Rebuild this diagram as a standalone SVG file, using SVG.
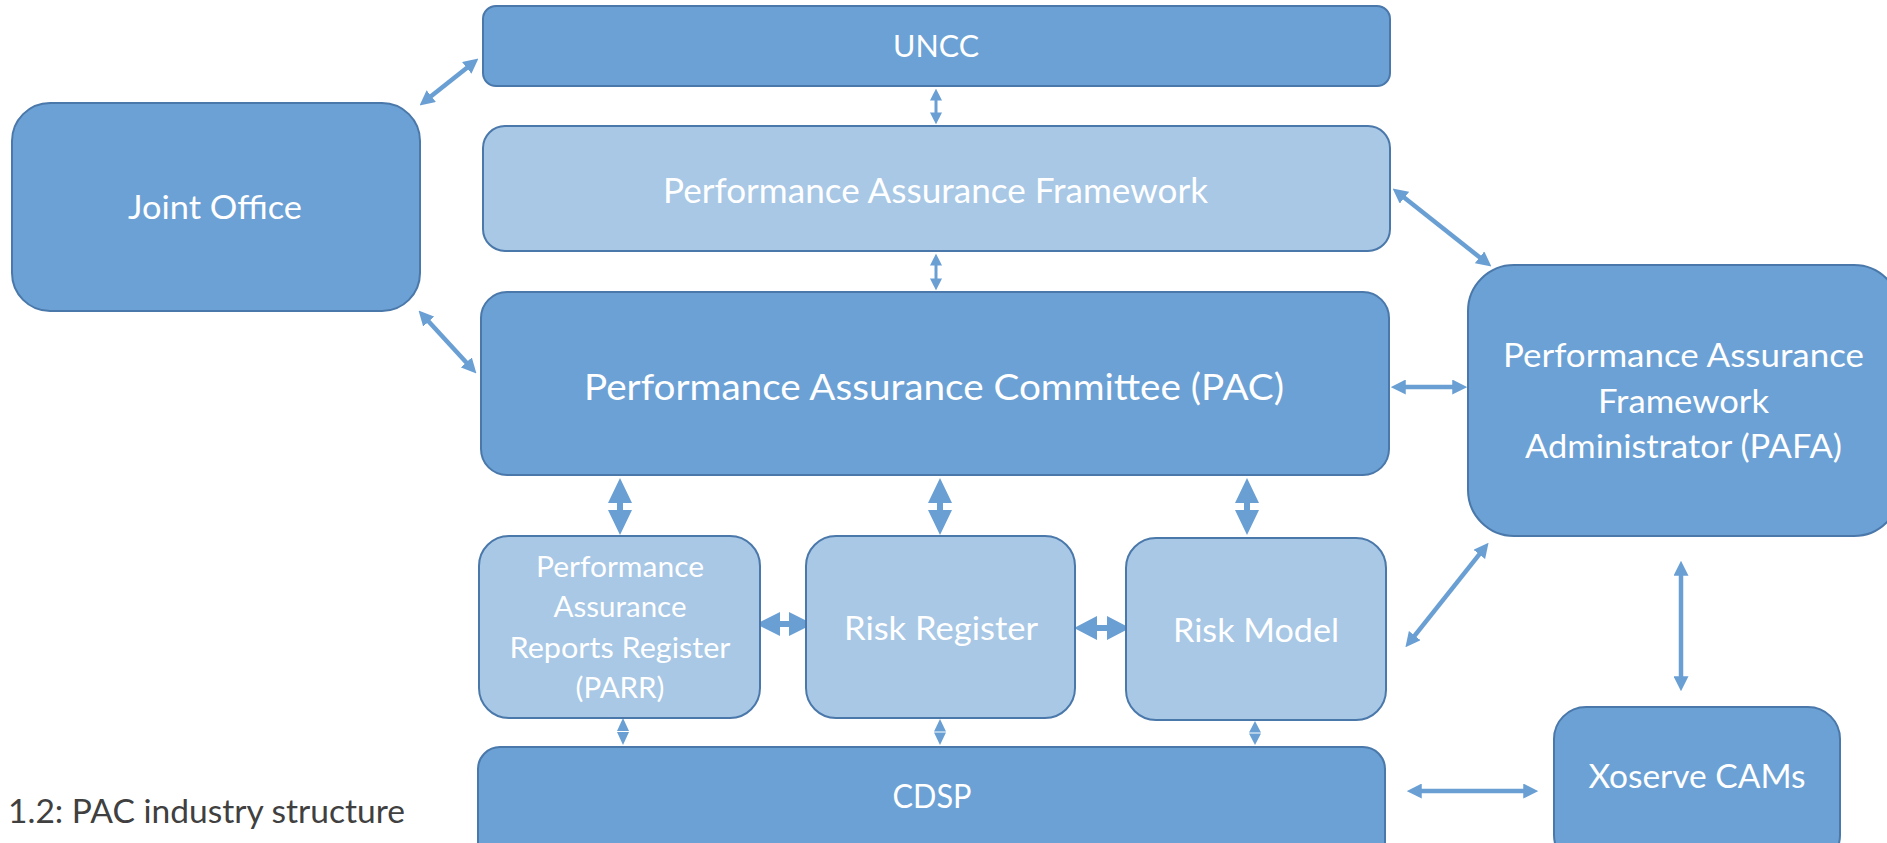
<svg xmlns="http://www.w3.org/2000/svg" width="1887" height="843" viewBox="0 0 1887 843">
<style>
.dark{fill:#6BA1D5;stroke:#4A78AA;stroke-width:2}
.light{fill:#A8C8E6;stroke:#4A78AA;stroke-width:2}
.t{font-family:Lato,"Open Sans",sans-serif;fill:#FFFFFF;text-anchor:middle}
.cap{font-family:Lato,"Open Sans",sans-serif;fill:#404040}
.ln{stroke:#6A9FD4;stroke-width:4.5;fill:none}
.lns{stroke:#6A9FD4;stroke-width:3;fill:none}
.blk{fill:#6A9FD4}
</style>
<defs>
<marker id="ah" viewBox="0 0 10 10" refX="0.5" refY="5" markerUnits="userSpaceOnUse" markerWidth="15" markerHeight="15" orient="auto-start-reverse"><path d="M0,0 L10,5 L0,10 z" fill="#6A9FD4"/></marker>
<marker id="ahs" viewBox="0 0 10 10" refX="0.5" refY="5" markerUnits="userSpaceOnUse" markerWidth="12" markerHeight="13" orient="auto-start-reverse"><path d="M0,0 L10,5 L0,10 z" fill="#6A9FD4"/></marker>
</defs>

<g id="connectors">
<path class="ln" d="M430.7,96.6 L467.3,67.4" marker-start="url(#ah)" marker-end="url(#ah)"/>
<path class="ln" d="M428.2,321 L466.8,363" marker-start="url(#ah)" marker-end="url(#ah)"/>
<path class="lns" d="M936,100 L936,113" marker-start="url(#ahs)" marker-end="url(#ahs)"/>
<path class="lns" d="M936,265 L936,279" marker-start="url(#ahs)" marker-end="url(#ahs)"/>
<path class="ln" d="M1403.8,197.3 L1480.2,257.7" marker-start="url(#ah)" marker-end="url(#ah)"/>
<path class="ln" d="M1405,387 L1453,387" marker-start="url(#ah)" marker-end="url(#ah)"/>
<path class="ln" d="M1414.3,636.2 L1479.7,553.8" marker-start="url(#ah)" marker-end="url(#ah)"/>
<path class="ln" d="M1681,575 L1681,677" marker-start="url(#ah)" marker-end="url(#ah)"/>
<path class="ln" d="M1421,791 L1524,791" marker-start="url(#ah)" marker-end="url(#ah)"/>
<polygon class="blk" points="620,478 632,503 623,503 623,510 632,510 620,535 608,510 617,510 617,503 608,503"/>
<polygon class="blk" points="940,478 952,503 943,503 943,510 952,510 940,535 928,510 937,510 937,503 928,503"/>
<polygon class="blk" points="1247,478 1259,503 1250,503 1250,510 1259,510 1247,535 1235,510 1244,510 1244,503 1235,503"/>
<polygon class="blk" points="756,624 780,612 780,621 789,621 789,612 813,624 789,636 789,627 780,627 780,636"/>
<polygon class="blk" points="1074,628 1097,616 1097,625 1107,625 1107,616 1130,628 1107,640 1107,631 1097,631 1097,640"/>
<polygon class="blk" points="623,718 629,731 617,731"/>
<polygon class="blk" points="623,745 629,732 617,732"/>
<polygon class="blk" points="940,719 946,731.5 934,731.5"/>
<polygon class="blk" points="940,745 946,732.5 934,732.5"/>
<polygon class="blk" points="1255,721 1261,732.5 1249,732.5"/>
<polygon class="blk" points="1255,745 1261,733.5 1249,733.5"/>
</g>

<g id="uncc">
<rect class="dark" x="483" y="6" width="907" height="80" rx="13"/>
<text class="t" x="936" y="57" font-size="31.5" textLength="86" lengthAdjust="spacingAndGlyphs">UNCC</text>
</g>
<g id="paf">
<rect class="light" x="483" y="126" width="907" height="125" rx="22"/>
<text class="t" x="935.5" y="203" font-size="33.8" textLength="545" lengthAdjust="spacingAndGlyphs">Performance Assurance Framework</text>
</g>
<g id="joint-office">
<rect class="dark" x="12" y="103" width="408" height="208" rx="38"/>
<text class="t" x="215" y="219" font-size="33.3" textLength="174" lengthAdjust="spacingAndGlyphs">Joint Office</text>
</g>
<g id="pac">
<rect class="dark" x="481" y="292" width="908" height="183" rx="26"/>
<text class="t" x="934" y="400" font-size="37.4" textLength="700" lengthAdjust="spacingAndGlyphs">Performance Assurance Committee (PAC)</text>
</g>
<g id="pafa">
<rect class="dark" x="1468" y="265" width="432" height="271" rx="46"/>
<text class="t" x="1683.5" y="367" font-size="33.3" textLength="361" lengthAdjust="spacingAndGlyphs">Performance Assurance</text>
<text class="t" x="1683.5" y="413" font-size="33.3" textLength="171" lengthAdjust="spacingAndGlyphs">Framework</text>
<text class="t" x="1683.5" y="458" font-size="33.3" textLength="317" lengthAdjust="spacingAndGlyphs">Administrator (PAFA)</text>
</g>
<g id="parr">
<rect class="light" x="479" y="536" width="281" height="182" rx="30"/>
<text class="t" x="620" y="577" font-size="28.8" textLength="168" lengthAdjust="spacingAndGlyphs">Performance</text>
<text class="t" x="620" y="617" font-size="28.8" textLength="133" lengthAdjust="spacingAndGlyphs">Assurance</text>
<text class="t" x="620" y="658" font-size="28.8" textLength="221" lengthAdjust="spacingAndGlyphs">Reports Register</text>
<text class="t" x="620" y="698" font-size="28.8" textLength="89" lengthAdjust="spacingAndGlyphs">(PARR)</text>
</g>
<g id="risk-register">
<rect class="light" x="806" y="536" width="269" height="182" rx="30"/>
<text class="t" x="941" y="640" font-size="33.3" textLength="194" lengthAdjust="spacingAndGlyphs">Risk Register</text>
</g>
<g id="risk-model">
<rect class="light" x="1126" y="538" width="260" height="182" rx="30"/>
<text class="t" x="1256" y="642" font-size="33.3" textLength="166" lengthAdjust="spacingAndGlyphs">Risk Model</text>
</g>
<g id="cdsp">
<rect class="dark" x="478" y="747" width="907" height="120" rx="22"/>
<text class="t" x="932" y="808" font-size="33.3" textLength="79" lengthAdjust="spacingAndGlyphs">CDSP</text>
</g>
<g id="xoserve">
<rect class="dark" x="1554" y="707" width="286" height="160" rx="32"/>
<text class="t" x="1697" y="788" font-size="33.3" textLength="217" lengthAdjust="spacingAndGlyphs">Xoserve CAMs</text>
</g>
<text class="cap" x="8" y="823" font-size="32.8" textLength="397" lengthAdjust="spacingAndGlyphs">1.2: PAC industry structure</text>
</svg>
